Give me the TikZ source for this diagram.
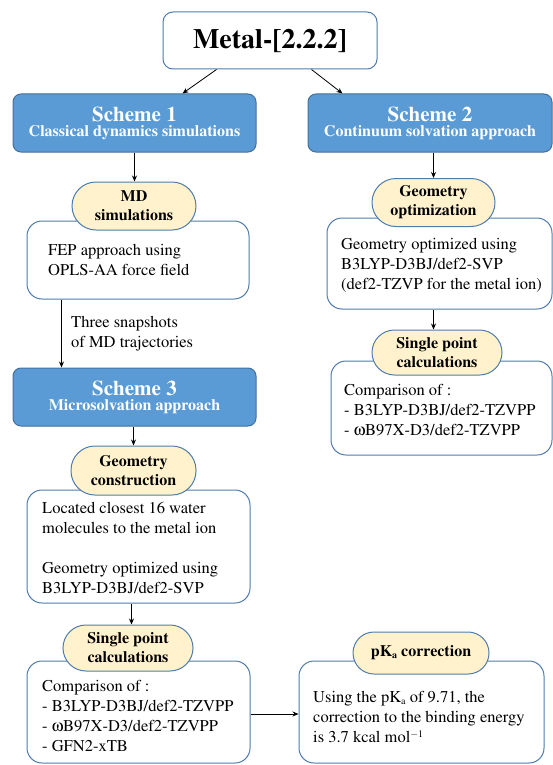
\documentclass[tikz,border=0pt]{standalone}
\usepackage[T1]{fontenc}
\usepackage{mathptmx}
\usepackage[Symbol]{upgreek}
\usetikzlibrary{arrows.meta,calc}
\definecolor{schemeblue}{HTML}{5B9BD5}
\definecolor{schemeedge}{HTML}{41719C}
\definecolor{pillfill}{HTML}{FFF2CC}
\definecolor{boxedge}{HTML}{4F7CAC}
\newcommand{\pKa}{pK{\fontsize{10}{10}\selectfont\raisebox{-2pt}{a}}}
\begin{document}
\begin{tikzpicture}[x=1pt,y=-1pt,
  schemebox/.style={draw=schemeedge, fill=schemeblue, line width=1pt, rounded corners=8pt, inner sep=0pt, text=white, font=\bfseries, align=center, minimum width=243pt, minimum height=58pt},
  whitebox/.style={draw=boxedge, fill=white, line width=1pt, rounded corners=15pt, inner sep=0pt},
  pill/.style={draw=boxedge, fill=pillfill, line width=1pt, inner sep=0pt, align=center, font=\fontsize{16}{19}\selectfont\bfseries},
  bodytext/.style={anchor=west, align=left, inner sep=0pt, font=\fontsize{16.5}{20}\selectfont},
  arr/.style={draw=black, line width=0.8pt, -{Stealth[length=6pt,width=5pt]}}]
\useasboundingbox (0,0) rectangle (553,765);

% title
\node[whitebox, rounded corners=10pt, minimum width=214pt, minimum height=57pt, font=\fontsize{28}{32}\selectfont\bfseries] (metal) at (270,40.5) {Metal-[2.2.2]};

% scheme boxes
\node[schemebox] (s1) at (134.5,123) {{\fontsize{21}{24}\selectfont Scheme 1}\\[3pt]{\fontsize{16}{19}\selectfont Classical dynamics simulations}};
\node[schemebox, minimum width=244pt] (s2) at (430,123) {{\fontsize{21}{24}\selectfont Scheme 2}\\[3pt]{\fontsize{16}{19}\selectfont Continuum solvation approach}};
\node[schemebox] (s3) at (134.5,397) {{\fontsize{21}{24}\selectfont Scheme 3}\\[3pt]{\fontsize{16}{19}\selectfont Microsolvation approach}};

% white boxes
\node[whitebox, minimum width=222pt, minimum height=78pt] (fepbox) at (138,260) {};
\node[whitebox, minimum width=225pt, minimum height=91pt] (gobox) at (439.5,263.5) {};
\node[whitebox, minimum width=221pt, minimum height=94pt] (sp2box) at (441.5,408) {};
\node[whitebox, minimum width=223pt, minimum height=113pt] (gcbox) at (138.5,546.5) {};
\node[whitebox, minimum width=223pt, minimum height=102pt] (spbox) at (138.5,712) {};
\node[whitebox, minimum width=245pt, minimum height=102pt] (pkbox) at (421.5,712) {};

% pills
\node[pill, rounded corners=24pt, minimum width=124pt, minimum height=48pt] (md) at (134,206) {MD\\simulations};
\node[pill, rounded corners=24pt, minimum width=123pt, minimum height=48pt] (gopill) at (433.5,202.5) {Geometry\\optimization};
\node[pill, rounded corners=22.5pt, minimum width=130pt, minimum height=45pt] (sp2pill) at (437,352.5) {Single point\\calculations};
\node[pill, rounded corners=24pt, minimum width=125pt, minimum height=49pt] (gcpill) at (133.5,470.5) {Geometry\\construction};
\node[pill, rounded corners=23pt, minimum width=130pt, minimum height=46pt] (sppill) at (128,648) {Single point\\calculations};
\node[pill, rounded corners=21pt, minimum width=136pt, minimum height=42pt] (pkpill) at (421,653) {\pKa{} correction};

% texts
\node[bodytext] (feptext) at (48,260) {FEP approach using\\OPLS-AA force field};
\node[bodytext] (gotext) at (341,265.5) {Geometry optimized using\\B3LYP-D3BJ/def2-SVP\\(def2-TZVP for the metal ion)};
\node[bodytext] (sp2text) at (344,410) {Comparison of :\\- B3LYP-D3BJ/def2-TZVPP\\- $\upomega$B97X-D3/def2-TZVPP};
\node[bodytext] (gctext) at (42,548) {Located closest 16 water\\molecules to the metal ion\\[20pt]Geometry optimized using\\B3LYP-D3BJ/def2-SVP};
\node[bodytext] (sptext) at (42,716) {Comparison of :\\- B3LYP-D3BJ/def2-TZVPP\\- $\upomega$B97X-D3/def2-TZVPP\\- GFN2-xTB};
\node[bodytext] (pktext) at (313,717) {Using the \pKa{} of 9.71, the\\correction to the binding energy\\is 3.7 kcal mol{\fontsize{10}{10}\selectfont\raisebox{5pt}{$-$1}}};
\node[bodytext] (snap) at (71,334) {Three snapshots\\of MD trajectories};

% connectors
\draw[arr] ([xshift=54pt]metal.south west) -- ([xshift=170pt]s1.north west);
\draw[arr] ([xshift=149pt]metal.south west) -- ([xshift=35pt]s2.north west);
\draw[arr] (s1.south) -- (s1.south |- md.north);
\draw[arr] (s2.south -| gopill.north) -- (gopill.north);
\draw[arr] (gobox.south -| gopill.north) -- (gopill.north |- sp2pill.north);
\draw[arr] ([xshift=35pt]fepbox.south west) -- ([xshift=35pt]fepbox.south west |- s3.north);
\draw[arr] (s3.south -| gcpill.north) -- (gcpill.north);
\draw[arr] ([xshift=105pt]gcbox.south west) -- ([xshift=105pt]gcbox.south west |- sppill.north);
\draw[arr] ([yshift=-2pt]spbox.east) -- ([yshift=-2pt]spbox.east -| pkbox.west);
\end{tikzpicture}
\end{document}
